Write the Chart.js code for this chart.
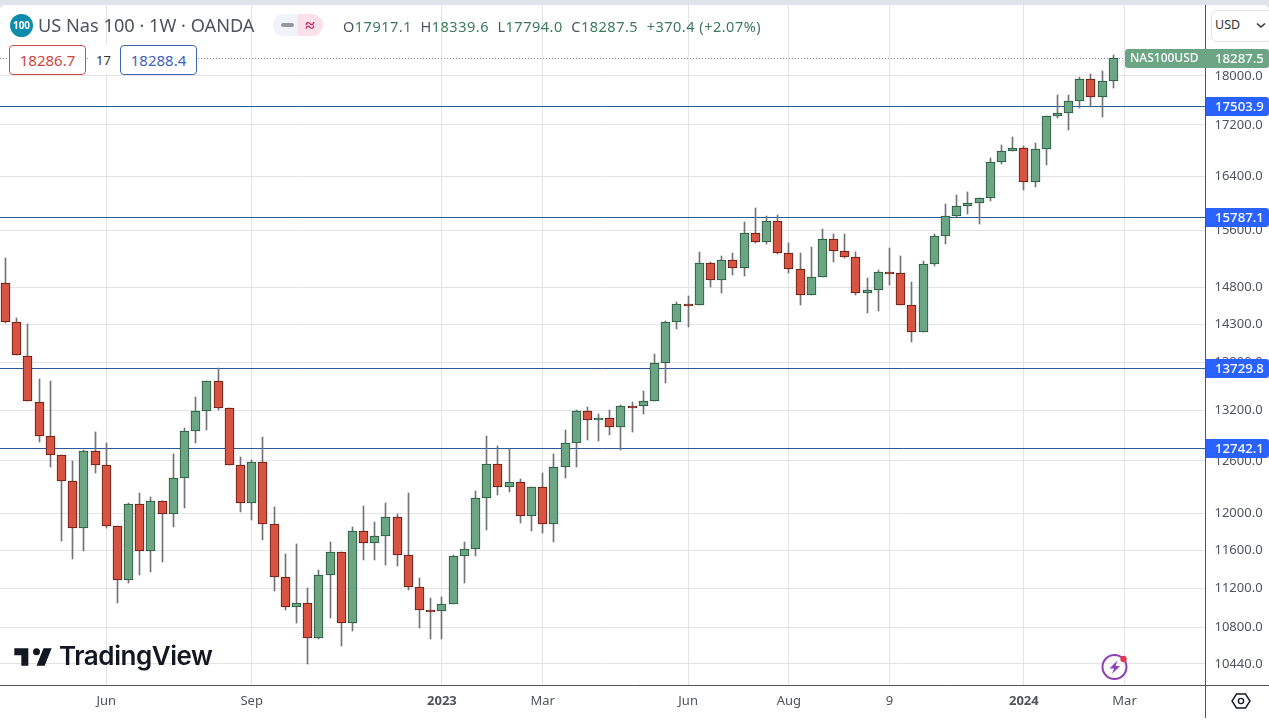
<!DOCTYPE html>
<html>
<head>
<meta charset="utf-8">
<title>US Nas 100</title>
<script src="https://cdn.jsdelivr.net/npm/chart.js@4"></script>
<style>
  html, body { margin: 0; height: 720px; overflow: hidden; background: #e0e3eb; font-family: "Noto Sans", sans-serif; }
  #wrap { position: absolute; left: 0; top: 5px; width: 1269px; height: 715px; background: #fff; border-radius: 5px 5px 0 0; overflow: hidden; }
  canvas { display: block; }
  .t { position: absolute; white-space: nowrap; }
  .box { position: absolute; top: 45px; width: 75px; height: 28px; line-height: 28px; border: 1px solid; border-radius: 4px; background: #fff; text-align: center; font-size: 15px; }
  .g { color: #3b7a5a; }
</style>
</head>
<body>
<div id="wrap"><canvas id="myChart" width="1269" height="715"></canvas></div>

<svg class="t" style="left:10px;top:14px" width="23" height="23"><circle cx="11.5" cy="11.5" r="11.5" fill="#0e8cab"/><text x="11.5" y="15" text-anchor="middle" font-size="10" font-weight="700" fill="#fff" font-family="Noto Sans">100</text></svg>
<div class="t" style="left:38px;top:13px;font-size:18.2px;color:#50535e">US Nas 100 · 1W · OANDA</div>
<svg class="t" style="left:273px;top:14px" width="50" height="22"><path d="M11 0H25V22H11A11 11 0 0 1 11 0Z" fill="#f0f3fa"/><path d="M25 0H39A11 11 0 0 1 39 22H25Z" fill="#fbdfe9"/><rect x="8" y="9" width="13" height="4" rx="2" fill="#9598a1"/><text x="37" y="17" text-anchor="middle" font-size="17" font-weight="700" fill="#c2185b" font-family="Noto Sans">≈</text></svg>
<div class="t" style="left:343px;top:16px;font-size:14.5px;letter-spacing:.5px;color:#50535e">O<span class="g">17917.1</span>&nbsp; H<span class="g">18339.6</span>&nbsp; L<span class="g">17794.0</span>&nbsp; C<span class="g">18287.5</span>&nbsp; <span class="g">+370.4 (+2.07%)</span></div>
<div class="box" style="left:9px;color:#d0453f;border-color:#c94f4f">18286.7</div>
<div class="t" style="left:88px;top:45px;width:31px;height:28px;line-height:30px;text-align:center;background:#fff;font-size:13px;color:#333">17</div>
<div class="box" style="left:120px;color:#3f5fbf;border-color:#3f66b3">18288.4</div>
<div class="t" style="left:1211px;top:10px;width:60px;height:30px;border:1px solid #e0e3eb;border-radius:6px;background:#fff"></div>
<div class="t" style="left:1215px;top:16px;font-size:12.5px;color:#333">USD</div>
<svg class="t" style="left:1256px;top:22px" width="10" height="7"><path d="M1 1.5L5 5L9 1.5" fill="none" stroke="#333" stroke-width="1.6"/></svg>

<svg class="t" style="left:11.7px;top:641px" width="42" height="33" viewBox="0 0 36 28"><path d="M14 6H2v6h6v9h6V6zm14 15h-7l6-15h7l-6 15zm-7-9a3 3 0 1 0 0-6 3 3 0 0 0 0 6z" fill="#131722"/></svg>
<div class="t" style="left:59px;top:640px;font-family:Inter;font-weight:600;font-size:26px;color:#131722;letter-spacing:-.45px">TradingView</div>

<svg class="t" style="left:1100px;top:652px" width="30" height="30"><circle cx="14.5" cy="15" r="12" fill="none" stroke="#8e3fb0" stroke-width="2"/><path d="M17.5 8.5L9.5 16.5H14L12 22L20 14H15.5Z" fill="#8e3fb0"/><circle cx="23.5" cy="7" r="3.2" fill="#e03a4a"/></svg>
<svg class="t" style="left:1230px;top:691px" width="22" height="20"><path d="M6.5 3H15.5L20 10L15.5 17H6.5L2 10Z" fill="none" stroke="#131722" stroke-width="1.4"/><circle cx="11" cy="10" r="2.6" fill="none" stroke="#131722" stroke-width="1.4"/></svg>

<script>
// weekly candles, first one is the week of 4 Apr 2022
const opens = [14848,14330,13887,13309,12890,12665,12360,11839,12712,12549,11861,11283,12104,11590,12138,11993,12399,12949,13191,13562,13228,12549,12116,12584,11883,11315,11005,11046,10690,11336,11579,10844,11806,11676,11752,11960,11547,11211,10975,10965,11036,11536,11611,12172,12560,12296,12353,11971,12296,11883,12526,12806,13191,13082,13106,12997,13252,13252,13313,13789,14322,14562,14549,15125,14889,15167,15055,15564,15435,15738,15279,15041,14684,14930,15478,15307,15209,14711,14752,14999,14986,14549,14190,15111,15521,15811,15958,16002,16076,16620,16790,16836,16316,16821,17342,17390,17584,17945,17649,17917.1];
const highs = [15195,14375,14299,13587,13566,12665,12591,12727,12937,12806,11861,12116,12228,12183,12138,12680,12985,13363,13562,13726,13228,12642,12607,12878,12071,11558,11665,11200,11381,11687,11579,11850,12085,11905,12116,11993,12228,11304,11090,11107,11547,11687,12251,12893,12775,12739,12387,12296,12456,12680,12965,13207,13240,13154,13203,13264,13305,13437,13905,14335,14589,14670,15293,15139,15223,15279,15723,15928,15801,15815,15421,15279,15364,15622,15550,15540,15293,14916,15027,15350,15223,14861,15153,15550,15987,16121,16165,16076,16682,16883,16997,16868,16914,17342,17687,17687,17972,18028,18083,18339.6];
const lows = [14317,13892,13313,12814,12521,11693,11504,11586,12452,11839,11046,11252,11336,11363,11468,11845,12055,12806,12957,13207,12549,12011,11922,11704,11165,10975,10844,10434,10684,10890,10612,10760,11497,11497,11444,11426,11175,10787,10678,10678,11036,11245,11540,11820,12209,12235,11897,11809,11788,11682,12402,12521,12846,12834,12905,12727,12935,13154,13313,13537,14230,14256,14549,14797,14711,14966,14944,15421,15393,15265,14986,14557,14684,14930,15147,15195,14684,14450,14468,14828,14549,14067,14190,15083,15407,15790,15840,15694,16032,16589,16779,16195,16234,16574,17310,17119,17471,17492,17319,17794];
const closes = [14330,13892,13313,12890,12665,12364,11839,12712,12549,11861,11283,12104,11590,12138,11993,12399,12949,13191,13562,13228,12549,12116,12584,11883,11315,11005,11046,10690,11336,11579,10844,11806,11676,11752,11960,11547,11211,10975,10965,11036,11536,11611,12172,12560,12296,12353,11971,12296,11883,12526,12806,13191,13082,13106,12997,13252,13246,13313,13789,14322,14562,14555,15125,14889,15167,15055,15564,15435,15738,15279,15041,14684,14930,15478,15307,15209,14711,14752,14999,14986,14549,14190,15111,15521,15811,15958,16002,16076,16620,16790,16836,16316,16821,17342,17390,17584,17945,17649,17912,18287.5];

// horizontal levels drawn on the chart
const levels = [17503.9, 15787.1, 13729.8, 12742.1];
const lastPrice = 18287.5;
const priceTicks = [18000,17200,16400,15600,14800,14300,13800,13200,12600,12000,11600,11200,10800,10440];
const timeTicks = [9,22,39,48,61,70,79,91,100];
const timeLabels = ['Jun','Sep','2023','Mar','Jun','Aug','9','2024','Mar'];

const weeks = opens.map((o, i) => i);
const xMin = -0.4915, xMax = 107.19;
const upBody = '#6ba583', upBorder = '#225437', downBody = '#d75442', downBorder = '#5f170e', wick = '#737375';
const isUp = i => closes[i] >= opens[i];

// snap everything to whole pixels, TradingView does that too
const snapPlugin = {
  id: 'snap',
  afterDatasetsUpdate(chart) {
    chart.getSortedVisibleDatasetMetas().forEach(meta => {
      meta.data.forEach(el => {
        if (meta.type === 'bar') {
          el.x = Math.floor(el.x) + 0.5;
          const top = Math.floor(Math.min(el.y, el.base) + 0.2);
          let bottom = Math.floor(Math.max(el.y, el.base) + 0.2);
          if (el.width > 1 && bottom - top < 2) bottom = top + 2;
          el.y = top;
          el.base = bottom;
          el.height = bottom - top;
        } else {
          el.y = Math.floor(el.y) + 0.5;
        }
      });
    });
  }
};

const badgePlugin = {
  id: 'badges',
  afterDraw(chart) {
    const ctx = chart.ctx, area = chart.chartArea, y = chart.scales.y, x = chart.scales.x;
    const w = chart.width;
    ctx.save();
    // axis frame
    ctx.strokeStyle = '#50535e';
    ctx.lineWidth = 1;
    ctx.beginPath();
    ctx.moveTo(0, area.bottom + 0.5);
    ctx.lineTo(w, area.bottom + 0.5);
    ctx.moveTo(area.right + 0.5, 0);
    ctx.lineTo(area.right + 0.5, 713);
    ctx.stroke();

    ctx.textBaseline = 'middle';
    levels.forEach(v => {
      const py = Math.floor(y.getPixelForValue(v));
      ctx.fillStyle = '#2962ff';
      ctx.beginPath();
      ctx.roundRect(area.right + 1, py - 9, w - area.right - 1, 19, [0, 3, 3, 0]);
      ctx.fill();
      ctx.fillStyle = '#fff';
      ctx.font = '500 13.2px "Noto Sans"';
      ctx.textAlign = 'left';
      ctx.fillText(v.toFixed(1), area.right + 10, py + 1);
    });

    const py = Math.floor(y.getPixelForValue(lastPrice));
    const left = Math.round(x.getPixelForValue(weeks.length));
    ctx.fillStyle = upBody;
    ctx.beginPath();
    ctx.roundRect(left, py - 9, w - left, 19, 3);
    ctx.fill();
    ctx.fillStyle = '#fff';
    ctx.font = '500 12px "Noto Sans"';
    ctx.fillText('NAS100USD', left + 5, py + 1);
    ctx.font = '500 13.2px "Noto Sans"';
    ctx.fillText(lastPrice.toFixed(1), area.right + 10, py + 1);
    ctx.restore();
  }
};

new Chart(document.getElementById('myChart').getContext('2d'), {
  type: 'bar',
  data: {
    datasets: [
      {
        label: 'body',
        order: 1,
        grouped: false,
        barThickness: 9,
        borderWidth: 1,
        borderSkipped: false,
        data: weeks.map(i => ({ x: i, y: [opens[i], closes[i]] })),
        backgroundColor: weeks.map(i => isUp(i) ? upBody : downBody),
        borderColor: weeks.map(i => isUp(i) ? upBorder : downBorder)
      },
      {
        label: 'wick',
        order: 2,
        grouped: false,
        barThickness: 1,
        borderWidth: 0,
        data: weeks.map(i => ({ x: i, y: [lows[i], highs[i]] })),
        backgroundColor: wick
      },
      ...levels.map(v => ({
        type: 'line',
        label: 'level ' + v,
        order: 3,
        data: [{ x: xMin, y: v }, { x: xMax, y: v }],
        borderColor: '#2c5a99',
        borderWidth: 1,
        pointRadius: 0
      })),
      {
        type: 'line',
        label: 'last',
        order: 4,
        data: [{ x: xMin, y: lastPrice }, { x: weeks.length, y: lastPrice }],
        borderColor: '#8f939c',
        borderWidth: 1,
        borderDash: [1, 2],
        pointRadius: 0
      }
    ]
  },
  options: {
    responsive: false,
    animation: false,
    layout: { padding: 0 },
    plugins: { legend: { display: false }, tooltip: { enabled: false } },
    scales: {
      x: {
        type: 'linear',
        bounds: 'data',
        offset: false,
        min: xMin,
        max: xMax,
        afterBuildTicks: s => { s.ticks = timeTicks.map(v => ({ value: v })); },
        afterFit: s => { s.height = 35; s.paddingLeft = 0; s.paddingRight = 0; },
        grid: { color: '#e4e4e6', drawTicks: false, offset: false },
        border: { display: false },
        ticks: {
          autoSkip: false,
          maxRotation: 0,
          padding: 8,
          color: '#50535e',
          font: c => ({ family: 'Noto Sans', size: 13, weight: /^20/.test(c.tick ? c.tick.label : '') ? '700' : '400' }),
          callback: (v, i) => timeLabels[i]
        }
      },
      y: {
        type: 'logarithmic',
        position: 'right',
        bounds: 'data',
        min: 10238.3,
        max: 19221.9,
        afterBuildTicks: s => { s.ticks = priceTicks.map(v => ({ value: v })); },
        afterFit: s => { s.width = 64; s.paddingTop = 0; s.paddingBottom = 0; },
        grid: { color: '#e4e4e6', drawTicks: false },
        border: { display: false },
        ticks: {
          autoSkip: false,
          padding: 9.5,
          color: '#50535e',
          font: { family: 'Noto Sans', size: 13 },
          callback: v => v.toFixed(1)
        }
      }
    }
  },
  plugins: [snapPlugin, badgePlugin]
});
</script>
</body>
</html>
